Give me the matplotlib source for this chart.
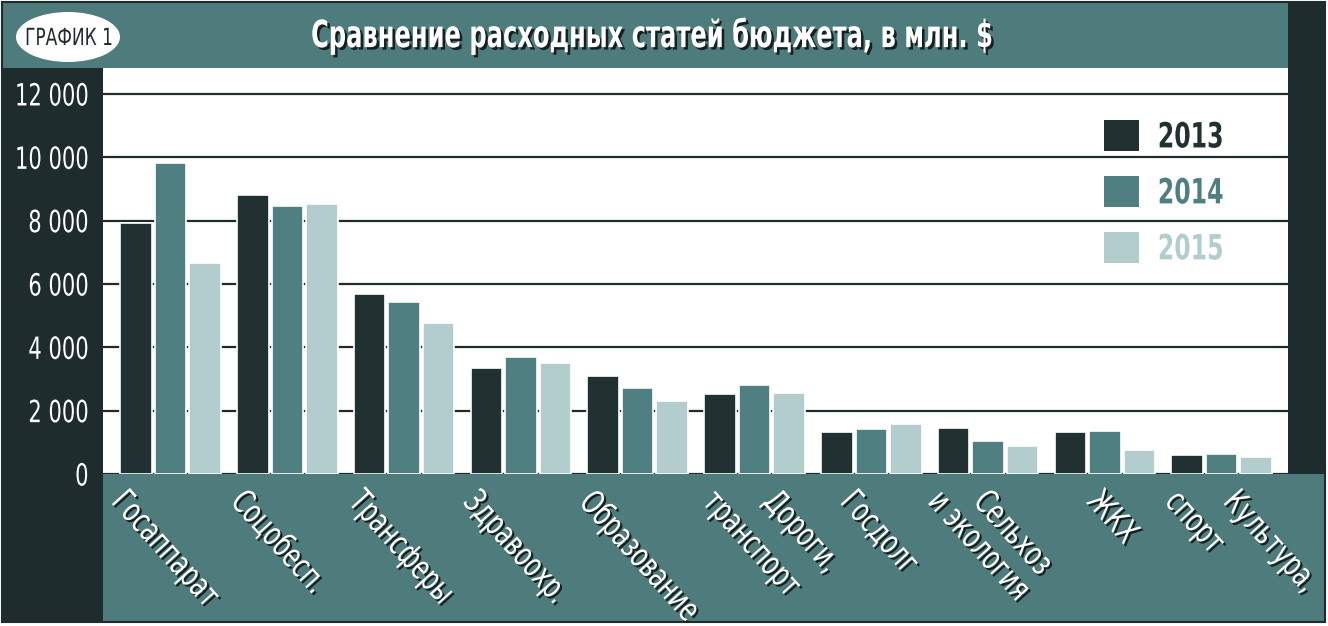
import matplotlib
matplotlib.use("Agg")
import matplotlib.pyplot as plt
import matplotlib.patheffects as pe
from matplotlib.colors import to_rgba
from matplotlib.patches import Rectangle, Ellipse, Patch
from matplotlib.ticker import FuncFormatter
from matplotlib.transforms import blended_transform_factory, Affine2D
import numpy as np

# budget items, mln $
categories = ["Госаппарат", "Соцобесп.", "Трансферы", "Здравоохр.", "Образование",
              "Дороги,\nтранспорт", "Госдолг", "Сельхоз\nи экология", "ЖКХ", "Культура,\nспорт"]
years = ["2013", "2014", "2015"]
v2013 = [7930, 8800, 5680, 3360, 3090, 2540, 1340, 1440, 1340, 610]
v2014 = [9830, 8460, 5420, 3700, 2710, 2810, 1420, 1050, 1370, 640]
v2015 = [6650, 8540, 4760, 3510, 2310, 2550, 1590, 890, 750, 540]
yticks = [0, 2000, 4000, 6000, 8000, 10000, 12000]
title = "Сравнение расходных статей бюджета, в млн. $"

# label line offsets from group centre (data units), one per text line
label_shift = [[-0.35], [-0.33], [-0.32], [-0.34], [-0.34],
               [0.23, -0.29], [-0.11], [0.03, -0.36], [0.0], [0.17, -0.33]]

DARK = "#1f2c2d"
TEAL = "#4e7b7c"
SHADOW = "#17201f"
colors = ["#213031", "#4f7f80", "#b3cdcf"]
W, H = 1328, 626


class Narrow(pe.AbstractPathEffect):
    """squeeze text horizontally (no condensed font installed)"""

    def __init__(self, sx, align="left", offset=(0, 0), color=None):
        super().__init__(offset)
        self.sx, self.align = sx, align
        self.color = None if color is None else to_rgba(color)

    def draw_path(self, renderer, gc, tpath, affine, rgbFace=None):
        ext = tpath.get_extents()
        cx = {"left": 0.0, "center": (ext.x0 + ext.x1) / 2, "right": ext.x1}[self.align]
        squeeze = Affine2D().translate(-cx, 0).scale(self.sx, 1).translate(cx, 0)
        gc0 = renderer.new_gc()
        gc0.copy_properties(gc)
        face = rgbFace
        if self.color is not None:
            face = self.color
            gc0.set_foreground(self.color)
        renderer.draw_path(gc0, tpath, squeeze + affine + self._offset_transform(renderer), face)
        gc0.restore()


def narrow_shadow(sx, align="left", off=1.5):
    return [Narrow(sx, align, offset=(off, -off), color=SHADOW), Narrow(sx, align)]


fig = plt.figure(figsize=(W / 100, H / 100), dpi=100, facecolor="white")

# background decoration in pixel coords
bg = fig.add_axes([0, 0, 1, 1], zorder=0)
bg.set_xlim(0, W)
bg.set_ylim(H, 0)
bg.axis("off")
bg.add_patch(Rectangle((3, 3), 1285, 65, color=TEAL, lw=0))
bg.add_patch(Rectangle((1288, 3), 37, 471, color=DARK, lw=0))
bg.add_patch(Rectangle((3, 68), 100, 554, color=DARK, lw=0))
bg.add_patch(Rectangle((103, 474), 1222, 148, color=TEAL, lw=0))
bg.add_patch(Rectangle((2, 2), 1323, 620, fill=False, ec=DARK, lw=1.5))
bg.add_patch(Ellipse((68, 37), 104, 50, color="white", lw=0))
bg.text(69, 38, "ГРАФИК 1", color=DARK, fontsize=17, ha="center", va="center",
        path_effects=[Narrow(0.72, "center")])
bg.text(652, 36, title, color="white", fontsize=27, fontweight="bold",
        ha="center", va="center", path_effects=narrow_shadow(0.645, "center", 1.8))

# main chart
ax = fig.add_axes([103 / W, (H - 474) / H, (1288 - 103) / W, (474 - 68) / H], zorder=1)
ax.set_facecolor("white")
x = np.arange(len(categories))
step, width = 0.2954, 0.27
for k, (vals, c) in enumerate(zip([v2013, v2014, v2015], colors)):
    ax.bar(x + (k - 1) * step, vals, width, color=c, edgecolor="white", linewidth=1.2,
           zorder=2)

ax.set_xlim(-0.578, 9.568)
ax.set_ylim(0, 12820)
ax.set_yticks(yticks)
ax.yaxis.set_major_formatter(FuncFormatter(lambda v, p: f"{v:,.0f}".replace(",", " ")))
ax.tick_params(axis="y", length=0, labelcolor="white", labelsize=22, pad=10)
ax.set_xticks(x, [""] * len(x))
ax.tick_params(axis="x", length=0)
ax.yaxis.grid(True, color=DARK, lw=1.6)
ax.set_axisbelow(True)
for s in ax.spines.values():
    s.set_visible(False)

# rotated category labels
tr = blended_transform_factory(ax.transData, fig.transFigure)
for i, (name, shifts) in enumerate(zip(categories, label_shift)):
    for line, dx in zip(name.split("\n"), shifts):
        ax.text(i + dx, 1 - 485 / H, line, transform=tr, color="white", fontsize=24,
                rotation=-48, rotation_mode="anchor", ha="left", va="top",
                clip_on=False, path_effects=narrow_shadow(0.70))

handles = [Patch(facecolor=c, edgecolor="none") for c in colors]
leg = ax.legend(handles, years, loc="upper left", bbox_to_anchor=(1104 / W, 1 - 120 / H),
                bbox_transform=fig.transFigure, frameon=False, borderpad=0,
                borderaxespad=0, handlelength=1.0, handleheight=1.0,
                handletextpad=0.55, labelspacing=0.62,
                prop={"size": 25, "weight": "bold"})
for t, c in zip(leg.get_texts(), colors):
    t.set_color(c)
    t.set_path_effects([Narrow(0.68)])

fig.canvas.draw()
for lbl in ax.get_yticklabels():
    lbl.set_path_effects([Narrow(0.69, "right")])

fig.savefig("out.png", dpi=100, facecolor="white")
